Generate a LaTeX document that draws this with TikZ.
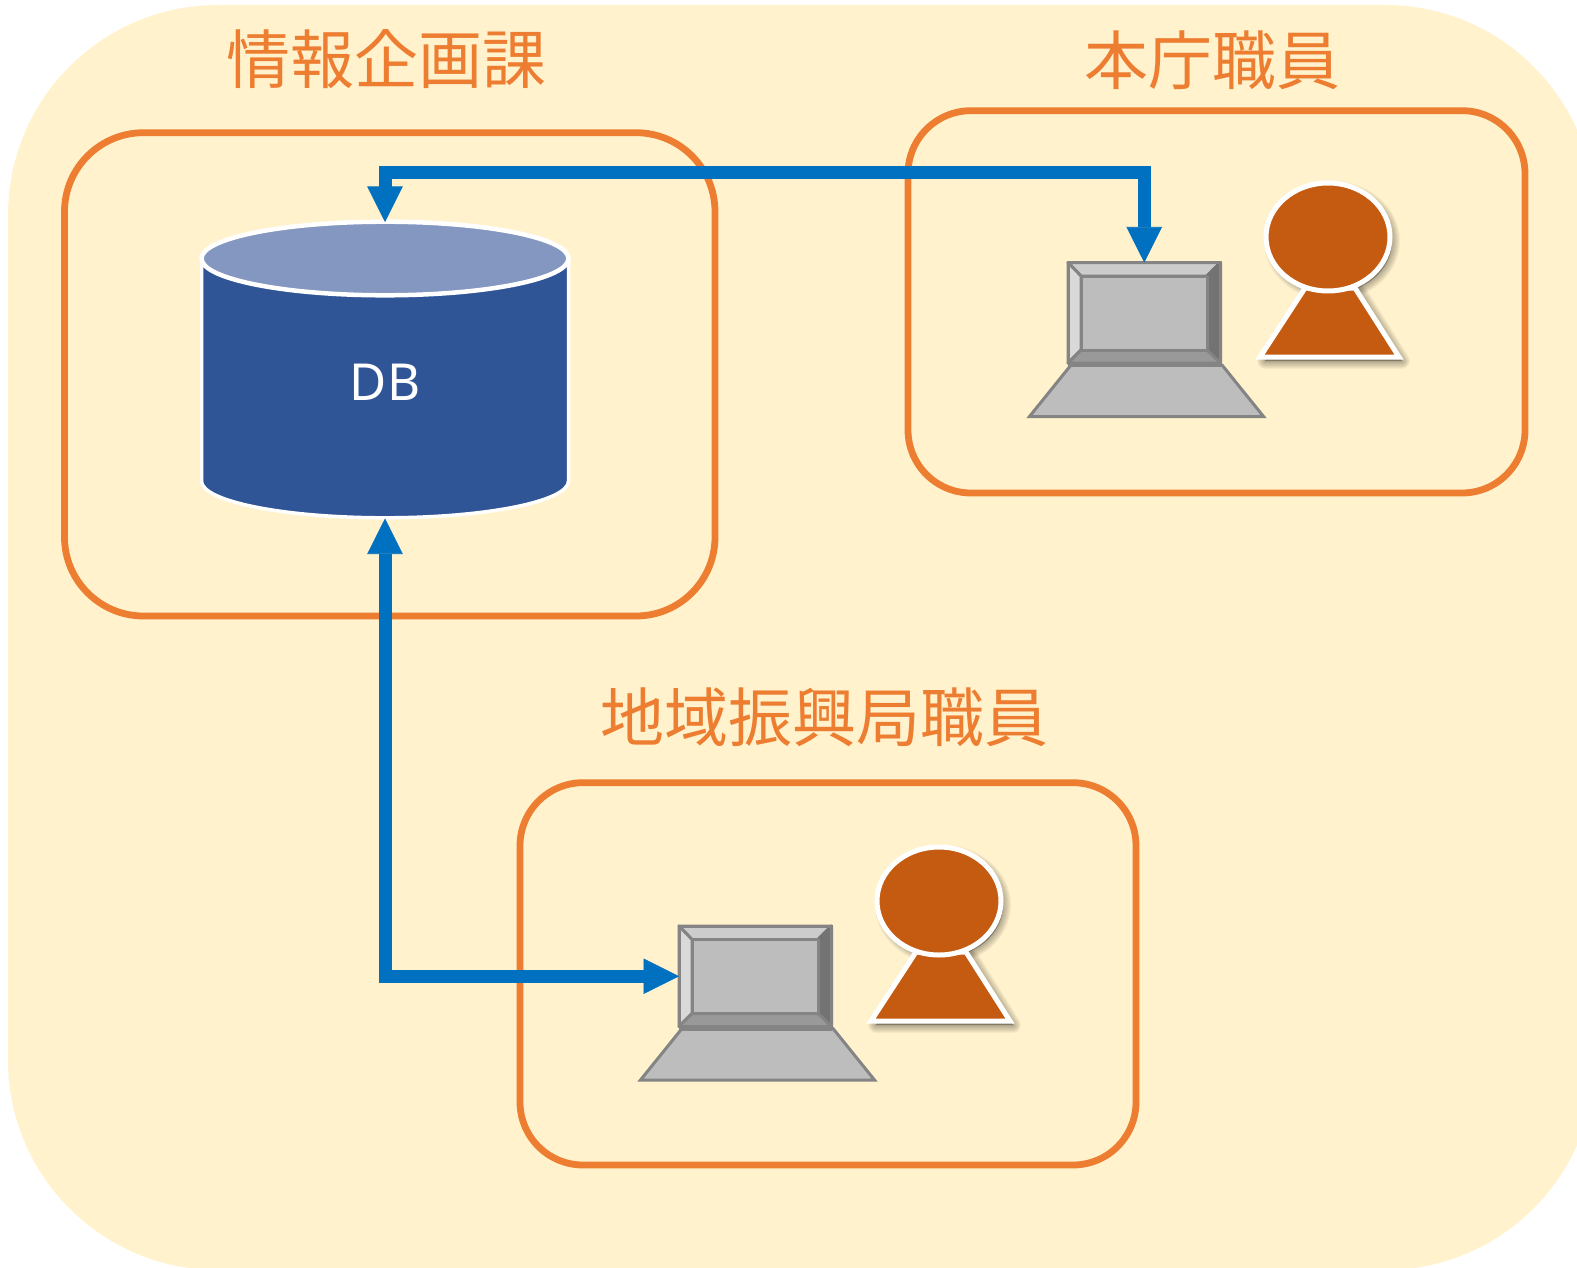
\documentclass[tikz,border=0pt]{standalone}
\usepackage{fontspec}
\usetikzlibrary{arrows.meta}
\newfontfamily\cjk{Noto Sans CJK JP}
\newfontfamily\dbfont{Noto Sans}
\definecolor{cream}{HTML}{FFF2CC}
\definecolor{boxorange}{HTML}{ED7D31}
\definecolor{linkblue}{HTML}{0070C0}
\definecolor{dbdark}{HTML}{2F5597}
\definecolor{dbtop}{HTML}{8497C0}
\definecolor{personfill}{HTML}{C55A11}
\definecolor{pcedge}{HTML}{848484}
\definecolor{pcface}{HTML}{BDBDBD}
\tikzset{
  groupbox/.style={draw=boxorange,line width=6.8pt,fill=none},
  grouptitle/.style={text=boxorange,anchor=base,inner sep=0pt,font=\cjk\fontsize{64pt}{70pt}\selectfont},
  link/.style={draw=linkblue,line width=13pt,{Triangle[width=35.5pt,length=35.5pt,line width=.6pt]}-{Triangle[width=35.5pt,length=35.5pt,line width=.6pt]}},
  pcline/.style={draw=pcedge,line width=3pt,line join=round},
  personline/.style={draw=white,line width=5pt,fill=personfill,line join=miter},
  shadowline/.style={draw=black,fill=black,opacity=.04,line join=round},
  screen/.style={pcline,fill=pcface,minimum width=152.5pt,minimum height=100.5pt,inner sep=0pt,outer sep=0pt,shape=rectangle},
}
% #1 dx, #2 dy, #3 name of the screen node
\newcommand{\drawlaptop}[3]{%
  \begin{scope}[shift={(#1,#2)}]
    \path[pcline,line join=miter,fill=pcface] (1071,365) -- (1222,365) -- (1263.5,416.5) -- (1029.5,416.5) -- cycle;
    \node[screen] (#3) at (1144.25,312.75) {};
    \path[pcline,fill=black!20!white] (1068,262.5) -- (1220.5,262.5) -- (1207,276) -- (1081,276) -- cycle;
    \path[pcline,fill=black!15!white] (1068,262.5) -- (1081,276) -- (1081,350) -- (1068,363) -- cycle;
    \path[pcline,fill=black!55!white,draw=black!55!white] (1220.5,262.5) -- (1207,276) -- (1207,350) -- (1220.5,363) -- cycle;
    \path[pcline,fill=black!40!white] (1068,363) -- (1081,350) -- (1207,350) -- (1220.5,363) -- cycle;
    \path[pcline] (1068,262.5) rectangle (1220.5,363);
    \path[pcline,fill=pcface] (1081,276) rectangle (1207,350);
    \path[pcline,line width=4pt] (1068,365) -- (1221,365);
  \end{scope}}
% #1 dx, #2 dy
\newcommand{\drawperson}[2]{%
  \begin{scope}[shift={(#1,#2)}]
    \foreach \w in {2,4,6,8,10,12,14,16}{
      \path[shadowline,line width=\w pt,shift={(4,4)}] (1305,288) -- (1355,288) -- (1398,357) -- (1261,357) -- cycle;
      \path[shadowline,line width=\w pt,shift={(4,4)}] (1328,237) ellipse [x radius=60,y radius=52];
    }
    \path[personline] (1305,288) -- (1355,288) -- (1399,357) -- (1260,357) -- cycle;
    \path[personline] (1328,237) ellipse [x radius=62,y radius=54];
  \end{scope}}
\begin{document}
\begin{tikzpicture}[x=1pt,y=-1pt]
\useasboundingbox (0,0) rectangle (1577,1268);
\begin{scope}
  \clip (0,0) rectangle (1577,1268);
  \fill[cream,rounded corners=210pt] (8,5) rectangle (1595,1270);
\end{scope}

\node[grouptitle] (titleA) at (386.5,84) {情報企画課};
\node[grouptitle] (titleB) at (1212.5,85) {本庁職員};
\node[grouptitle] (titleC) at (824,741) {地域振興局職員};

\path[groupbox,rounded corners=79pt] (64.5,132.7) rectangle (715,616);
\path[groupbox,rounded corners=63pt] (908,110.7) rectangle (1525,493);
\path[groupbox,rounded corners=63pt] (520,782.7) rectangle (1136,1165);

% database
\path[fill=dbdark,draw=white,line width=3.5pt]
  (201.5,258.5) -- (201.5,481) arc [start angle=180,end angle=0,x radius=183.5,y radius=36.8]
  -- (568.5,258.5) arc [start angle=0,end angle=180,x radius=183.5,y radius=-36.8] -- cycle;
\path[fill=dbtop,draw=white,line width=4.5pt] (385,258.5) ellipse [x radius=183.5,y radius=36.8];
\node[minimum width=372pt,minimum height=296.5pt,inner sep=0pt,outer sep=0pt] (db) at (385,370.25) {};
\node[text=white,inner sep=0pt,font=\dbfont\fontsize{51pt}{56pt}\selectfont] (dbtext) at (385,382.5) {DB};

\drawlaptop{0}{0}{pcA}
\drawperson{0}{0}
\drawlaptop{-389}{663.5}{pcB}
\drawperson{-389}{664}

\coordinate (bendA) at (db.north |- 0,173);
\draw[link] (db.north) -- (bendA) -| (pcA.north);
\draw[link] (db.south) |- (pcB.west);
\end{tikzpicture}
\end{document}
